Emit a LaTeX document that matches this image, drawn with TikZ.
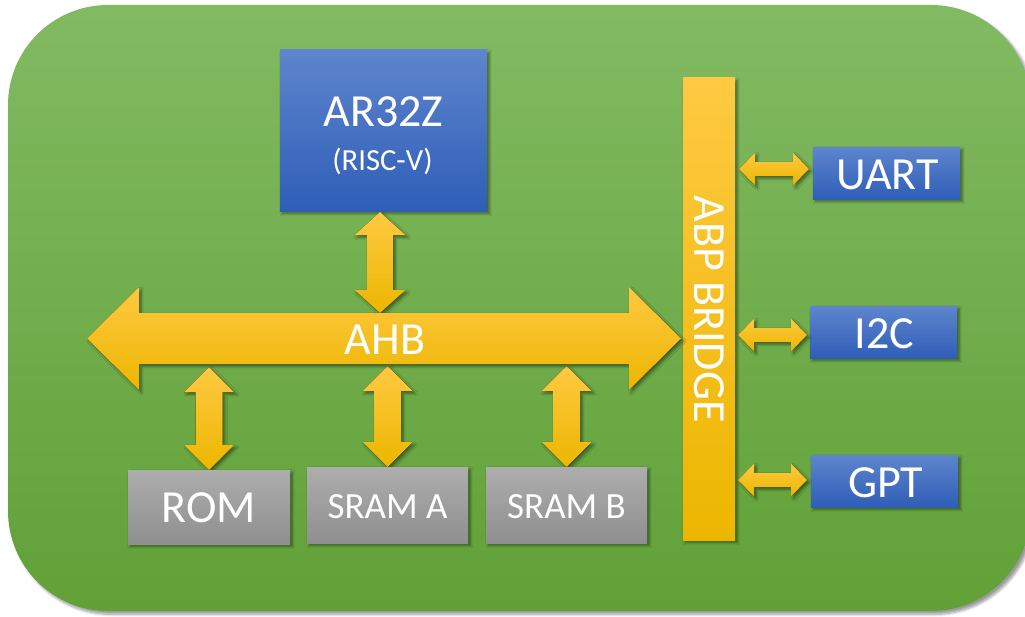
\documentclass[tikz,border=0pt]{standalone}
\usepackage{fontspec}
\setmainfont{Carlito}
\usetikzlibrary{calc,fit,shadows.blur}
\definecolor{greenT}{RGB}{130,186,98}
\definecolor{greenB}{RGB}{97,161,55}
\definecolor{blueT}{RGB}{94,133,205}
\definecolor{blueB}{RGB}{47,94,183}
\definecolor{grayT}{RGB}{173,173,173}
\definecolor{grayB}{RGB}{143,143,143}
\definecolor{goldT}{RGB}{255,201,66}
\definecolor{goldM}{RGB}{255,193,0}
\definecolor{goldB}{RGB}{236,182,0}
\newcommand{\hdblarrow}[5]{%
  \fill[gold] (#1) -- ($(#1)+(#3,-#4)$) -- ($(#1)+(#3,-#5)$) -- ($(#2)+(-#3,-#5)$) -- ($(#2)+(-#3,-#4)$) -- (#2) -- ($(#2)+(-#3,#4)$) -- ($(#2)+(-#3,#5)$) -- ($(#1)+(#3,#5)$) -- ($(#1)+(#3,#4)$) -- cycle;}
\newcommand{\vdblarrow}[5]{%
  \fill[gold] (#1) -- ($(#1)+(#4,#3)$) -- ($(#1)+(#5,#3)$) -- ($(#2)+(#5,-#3)$) -- ($(#2)+(#4,-#3)$) -- (#2) -- ($(#2)+(-#4,-#3)$) -- ($(#2)+(-#5,-#3)$) -- ($(#1)+(-#5,#3)$) -- ($(#1)+(-#4,#3)$) -- cycle;}
\begin{document}
\begin{tikzpicture}[x=0.75pt,y=-0.75pt,
  shd/.style={blur shadow={shadow xshift=1.8pt, shadow yshift=-1.8pt, shadow opacity=45, shadow blur steps=6}},
  gold/.style={top color=goldT, middle color=goldM, bottom color=goldB, shd},
  boxbase/.style={draw=none, inner sep=0pt, outer sep=0pt, shd},
  bluebox/.style={boxbase, top color=blueT, bottom color=blueB},
  graybox/.style={boxbase, top color=grayT, bottom color=grayB},
  goldbox/.style={boxbase, top color=goldT, bottom color=goldB},
  big/.style={font=\fontsize{34.5}{40}\selectfont, text height=22.5pt, text depth=0pt},
  mid/.style={font=\fontsize{27.75}{32}\selectfont, text height=18pt, text depth=0pt},
  small/.style={font=\fontsize{23}{27}\selectfont, text height=14.7pt, text depth=0pt},
  txt/.style={text=white, inner sep=0pt, outer sep=0pt}]
\path[use as bounding box] (0,0) rectangle (1025,617);
\clip (0,0) rectangle (1025,617);
% background panel
\path[top color=greenT, bottom color=greenB, rounded corners=75pt,
  blur shadow={shadow xshift=2.5pt, shadow yshift=-2.5pt, shadow opacity=40, shadow blur steps=8}]
  (8,5) rectangle (1031,611);
% boxes (nodes)
\node[bluebox, fit={(280,50)(487,211)}] (cpu) {};
\node[goldbox, fit={(683,78)(735,540)}] (bridge) {};
\node[bluebox, fit={(813,147)(960,199)}] (uart) {};
\node[bluebox, fit={(810,306)(957,358)}] (i2c) {};
\node[bluebox, fit={(811,455)(958,507)}] (gpt) {};
% connector end points
\coordinate (ahbL) at (87,338.5);
\coordinate (ahbR) at ($(bridge.west |- ahbL)+(-2,0)$);
\coordinate (cpuT) at ($(cpu.south)+(-3.5,1)$);
\coordinate (cpuB) at (380,313);
\coordinate (romT) at (209,367);
\coordinate (romB) at (209,470);
\coordinate (saT) at (387.5,366);
\coordinate (saB) at (387.5,467);
\coordinate (sbT) at (566.5,366);
\coordinate (sbB) at (566.5,467);
\coordinate (uL) at (739,169);
\coordinate (uR) at (809,169);
\coordinate (iL) at (738,335);
\coordinate (iR) at (807,335);
\coordinate (gL) at (738,480);
\coordinate (gR) at (807,480);
% vertical arrows
\vdblarrow{cpuT}{cpuB}{23}{25.5}{13}
\vdblarrow{romT}{romB}{25}{25}{13.5}
\vdblarrow{saT}{saB}{25}{25}{13.5}
\vdblarrow{sbT}{sbB}{25}{25}{13.5}
% AHB bus
\hdblarrow{ahbL}{ahbR}{52}{51.5}{25.5}
% APB side arrows
\hdblarrow{uL}{uR}{16}{16.5}{7}
\hdblarrow{iL}{iR}{16}{16.5}{7}
\hdblarrow{gL}{gR}{16}{16.5}{7}
% memories
\node[graybox, fit={(128,470)(290,544)}] (rom) {};
\node[graybox, fit={(307,467)(468,543)}] (sramA) {};
\node[graybox, fit={(486,467)(647,543)}] (sramB) {};
% texts
\node[txt, big] (cputitle) at (383.5,112) {AR32Z};
\node[txt, small] (cpusub) at (382.5,161) {(RISC-V)};
\node[txt, big] (ahbtxt) at ($(ahbL)!0.5!(ahbR)+(1,1)$) {AHB};
\node[txt, big, rotate=-90] (bridgetxt) at (bridge.center) {ABP BRIDGE};
\node[txt, big] (uarttxt) at ($(uart.center)+(1,1)$) {UART};
\node[txt, big] (i2ctxt) at ($(i2c.center)+(1,1)$) {I2C};
\node[txt, big] (gpttxt) at ($(gpt.center)+(1,1)$) {GPT};
\node[txt, big] (romtxt) at (rom.center) {ROM};
\node[txt, mid] (sramAtxt) at ($(sramA.center)+(0,1)$) {SRAM A};
\node[txt, mid] (sramBtxt) at ($(sramB.center)+(0,1)$) {SRAM B};
\end{tikzpicture}
\end{document}
